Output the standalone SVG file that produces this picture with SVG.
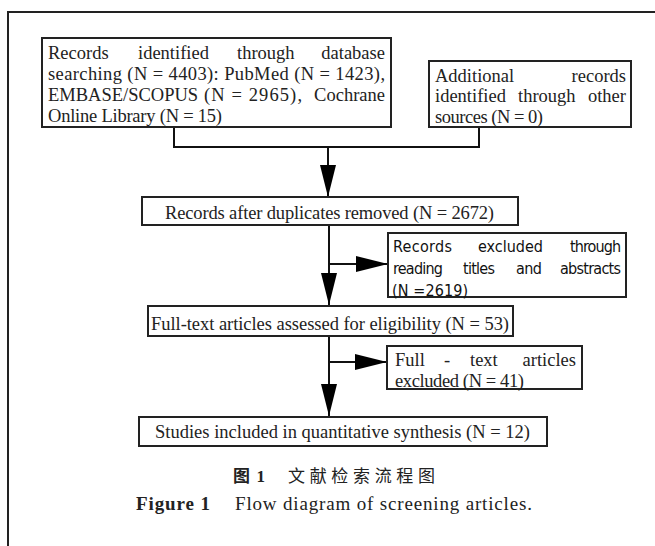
<svg xmlns="http://www.w3.org/2000/svg" width="655" height="546" viewBox="0 0 655 546">
<style>
.box{fill:#fff;stroke:#222;stroke-width:2}
.t{font-family:"Liberation Serif","Times New Roman",serif;font-size:18.5px;fill:#222}
.n{font-family:"Liberation Sans Narrow","DejaVu Sans Condensed","DejaVu Sans",sans-serif;font-size:16px;fill:#111}
.line{fill:none;stroke:#111;stroke-width:2}
.cap{font-family:"Liberation Serif","Noto Sans CJK SC",serif;fill:#222}
</style>
<defs>
<marker id="ah" viewBox="0 0 32 16" refX="32" refY="8" markerWidth="32" markerHeight="16" markerUnits="userSpaceOnUse" orient="auto">
<path d="M0,0 L32,8 L0,16 Z" fill="#000"/>
</marker>
</defs>
<rect width="655" height="546" fill="#fff"/>
<path d="M8,546 V12 H655" fill="none" stroke="#222" stroke-width="2"/>

<g id="connectors">
<path class="line" d="M174,127 V147 H479 V127"/>
<path class="line" d="M328,147 V197" marker-end="url(#ah)"/>
<path class="line" d="M329,225 V305" marker-end="url(#ah)"/>
<path class="line" d="M329,264 H388" marker-end="url(#ah)"/>
<path class="line" d="M329,336 V416" marker-end="url(#ah)"/>
<path class="line" d="M329,362 H387" marker-end="url(#ah)"/>
</g>

<g id="n1">
<rect class="box" x="42" y="38" width="349" height="89"/>
<text class="t" y="59"><tspan x="48">Records</tspan><tspan x="138">identified</tspan><tspan x="237">through</tspan></text>
<text class="t" x="385" y="59" text-anchor="end">database</text>
<text class="t" x="48" y="80" textLength="337" lengthAdjust="spacing">searching (N = 4403): PubMed (N = 1423),</text>
<text class="t" y="101"><tspan x="48">EMBASE/SCOPUS</tspan></text>
<text class="t" x="204" y="101" textLength="98" lengthAdjust="spacing">(N = 2965),</text>
<text class="t" x="385" y="101" text-anchor="end">Cochrane</text>
<text class="t" x="48" y="122" textLength="174" lengthAdjust="spacing">Online Library (N = 15)</text>
</g>

<g id="n2">
<rect class="box" x="429" y="61" width="202" height="66"/>
<text class="t" x="435" y="82">Additional</text>
<text class="t" x="626" y="82" text-anchor="end">records</text>
<text class="t" x="435" y="102">identified</text>
<text class="t" x="518" y="102">through</text>
<text class="t" x="626" y="102" text-anchor="end">other</text>
<text class="t" x="435" y="123" textLength="108" lengthAdjust="spacing">sources (N = 0)</text>
</g>

<g id="n3">
<rect class="box" x="142" y="197" width="376" height="28"/>
<text class="t" x="165" y="219" textLength="329" lengthAdjust="spacing">Records after duplicates removed (N = 2672)</text>
</g>

<g id="n4">
<rect class="box" x="388" y="233" width="238" height="64"/>
<text class="n" x="393" y="252" textLength="59" lengthAdjust="spacing">Records</text>
<text class="n" x="478" y="252" textLength="65" lengthAdjust="spacing">excluded</text>
<text class="n" x="570" y="252" textLength="51" lengthAdjust="spacing">through</text>
<text class="n" x="393" y="274" textLength="50" lengthAdjust="spacing">reading</text>
<text class="n" x="463" y="274" textLength="32" lengthAdjust="spacing">titles</text>
<text class="n" x="516" y="274" textLength="26" lengthAdjust="spacing">and</text>
<text class="n" x="560" y="274" textLength="61" lengthAdjust="spacing">abstracts</text>
<text class="n" x="392" y="296" textLength="76" lengthAdjust="spacing">(N =2619)</text>
</g>

<g id="n5">
<rect class="box" x="148" y="306" width="365" height="30"/>
<text class="t" x="151" y="330" textLength="358" lengthAdjust="spacing">Full-text articles assessed for eligibility (N = 53)</text>
</g>

<g id="n6">
<rect class="box" x="387" y="346" width="195" height="43"/>
<text class="t" x="395" y="366">Full</text>
<text class="t" x="447" y="366" text-anchor="middle">-</text>
<text class="t" x="470" y="366">text</text>
<text class="t" x="576" y="366" text-anchor="end">articles</text>
<text class="t" x="395" y="387" textLength="129" lengthAdjust="spacing">excluded (N = 41)</text>
</g>

<g id="n7">
<rect class="box" x="139" y="417" width="408" height="29"/>
<text class="t" x="155" y="438" textLength="375" lengthAdjust="spacing">Studies included in quantitative synthesis (N = 12)</text>
</g>

<g id="caption">
<text class="cap" x="233" y="482" font-size="17" font-weight="bold" font-family="'Noto Sans CJK SC',sans-serif" textLength="32" lengthAdjust="spacing">图1</text>
<text class="cap" x="288" y="482" font-size="17" font-family="'Noto Sans CJK SC',sans-serif" textLength="147" lengthAdjust="spacing">文献检索流程图</text>
<text class="cap" x="136" y="510" font-size="19" font-weight="bold" textLength="74" lengthAdjust="spacing">Figure 1</text>
<text class="cap" x="235" y="510" font-size="19" textLength="297" lengthAdjust="spacing">Flow diagram of screening articles.</text>
</g>
</svg>
